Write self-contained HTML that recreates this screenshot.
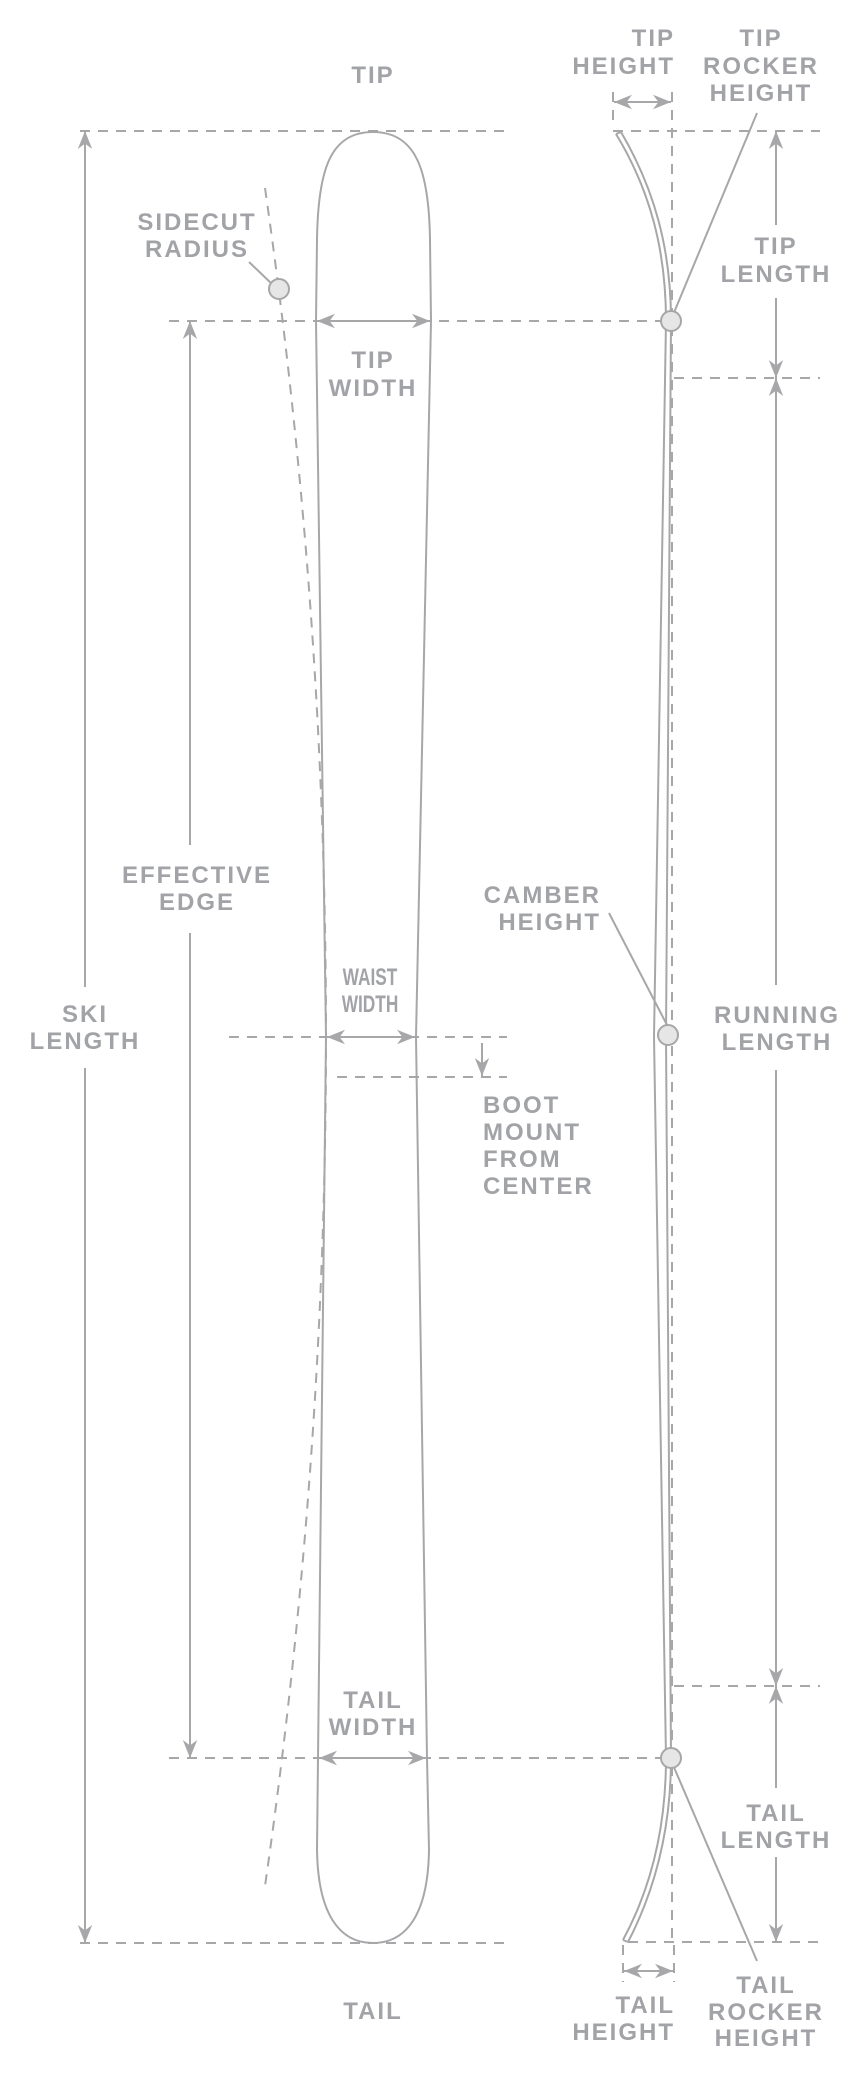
<!DOCTYPE html>
<html><head><meta charset="utf-8"><style>
html,body{margin:0;padding:0;background:#fff}
svg{display:block}
text{font-family:"Liberation Sans",sans-serif;font-weight:bold;fill:#a2a3a7;font-size:24px;letter-spacing:2px}
.c{text-anchor:middle}.r{text-anchor:end}
</style></head><body>
<svg width="864" height="2078" viewBox="0 0 864 2078" xmlns="http://www.w3.org/2000/svg">
<defs>
<marker id="a" viewBox="0 0 10 10" refX="10" refY="5" markerWidth="18" markerHeight="18" markerUnits="userSpaceOnUse" orient="auto-start-reverse"><path d="M0,1 L10,5 L0,9 L3,5z" fill="#a7a7aa"/></marker>
</defs>
<g stroke="#a7a7aa" stroke-width="2" fill="none">
<g stroke-dasharray="10,8">
<line x1="80" y1="131" x2="509" y2="131"/>
<line x1="80" y1="1943" x2="509" y2="1943"/>
<line x1="169" y1="321" x2="660" y2="321"/>
<line x1="169" y1="1758" x2="660" y2="1758"/>
<line x1="613" y1="131" x2="820" y2="131"/>
<line x1="674" y1="378" x2="820" y2="378"/>
<line x1="674" y1="1686" x2="820" y2="1686"/>
<line x1="628" y1="1942" x2="820" y2="1942"/>
<line x1="229" y1="1037" x2="507" y2="1037"/>
<line x1="337" y1="1077" x2="507" y2="1077"/>
<line x1="613" y1="92" x2="613" y2="128"/>
<line x1="672" y1="92" x2="672" y2="1945"/>
<line x1="623" y1="1945" x2="623" y2="1982"/>
<line x1="674" y1="1945" x2="674" y2="1982"/>
<path d="M265,188 Q387,1037 265,1886"/>
</g>
<path d="M373,132 C330,132 318,170 317,240 L316,321 L326,1037 L318,1758 L317,1850 C318,1915 340,1943 373,1943 C406,1943 428,1915 429,1850 L427,1758 L416,1037 L431,321 L430,240 C429,170 416,132 373,132 Z"/>
<path d="M616,134 C650,190 666,250 666,321 L654,1037 L666,1758 C666,1830 650,1890 623,1940"/>
<path d="M621,132 C655,190 671,250 671,321 L666,1037 L671,1758 C671,1830 655,1890 628,1942"/>
<line x1="616" y1="134" x2="621" y2="132"/>
<line x1="623" y1="1940" x2="628" y2="1942"/>
<line x1="757" y1="113" x2="673" y2="315"/>
<line x1="757" y1="1961" x2="673" y2="1765"/>
<line x1="609" y1="913" x2="667" y2="1025"/>
<line x1="249" y1="262" x2="272" y2="284"/>
<line x1="85" y1="131" x2="85" y2="987" marker-start="url(#a)"/>
<line x1="85" y1="1068" x2="85" y2="1943" marker-end="url(#a)"/>
<line x1="190" y1="321" x2="190" y2="845" marker-start="url(#a)"/>
<line x1="190" y1="933" x2="190" y2="1758" marker-end="url(#a)"/>
<line x1="776" y1="131" x2="776" y2="225" marker-start="url(#a)"/>
<line x1="776" y1="298" x2="776" y2="378" marker-end="url(#a)"/>
<line x1="776" y1="378" x2="776" y2="985" marker-start="url(#a)"/>
<line x1="776" y1="1070" x2="776" y2="1686" marker-end="url(#a)"/>
<line x1="776" y1="1686" x2="776" y2="1788" marker-start="url(#a)"/>
<line x1="776" y1="1857" x2="776" y2="1942" marker-end="url(#a)"/>
<line x1="317" y1="321" x2="430" y2="321" marker-start="url(#a)" marker-end="url(#a)"/>
<line x1="319" y1="1758" x2="426" y2="1758" marker-start="url(#a)" marker-end="url(#a)"/>
<line x1="327" y1="1037" x2="415" y2="1037" marker-start="url(#a)" marker-end="url(#a)"/>
<line x1="614" y1="102" x2="671" y2="102" marker-start="url(#a)" marker-end="url(#a)"/>
<line x1="624" y1="1971" x2="673" y2="1971" marker-start="url(#a)" marker-end="url(#a)"/>
<line x1="482" y1="1043" x2="482" y2="1076" marker-end="url(#a)"/>
</g>
<g fill="#e6e6e7" stroke="#a7a7aa" stroke-width="2">
<circle cx="279" cy="289" r="10"/>
<circle cx="671" cy="321" r="10"/>
<circle cx="668" cy="1035" r="10"/>
<circle cx="671" cy="1758" r="10"/>
</g>
<text class="c" x="373" y="83">TIP</text>
<text class="c" x="373" y="2019">TAIL</text>
<text class="c" x="197" y="230">SIDECUT</text><text class="c" x="197" y="257">RADIUS</text>
<text class="c" x="373" y="368">TIP</text><text class="c" x="373" y="396">WIDTH</text>
<text class="c" x="373" y="1708">TAIL</text><text class="c" x="373" y="1735">WIDTH</text>
<text class="c" x="197" y="883">EFFECTIVE</text><text class="c" x="197" y="910">EDGE</text>
<text class="c" x="85" y="1022">SKI</text><text class="c" x="85" y="1049">LENGTH</text>
<g transform="translate(370,0) scale(0.72,1)">
<text class="c" x="0" y="985" style="font-size:24px;letter-spacing:0">WAIST</text>
<text class="c" x="0" y="1012" style="font-size:24px;letter-spacing:0">WIDTH</text>
</g>
<text x="483" y="1113">BOOT</text><text x="483" y="1140">MOUNT</text><text x="483" y="1167">FROM</text><text x="483" y="1194">CENTER</text>
<text class="r" x="601" y="903">CAMBER</text><text class="r" x="601" y="930">HEIGHT</text>
<text class="c" x="777" y="1023">RUNNING</text><text class="c" x="777" y="1050">LENGTH</text>
<text class="r" x="675" y="46">TIP</text><text class="r" x="675" y="74">HEIGHT</text>
<text class="c" x="761" y="46">TIP</text><text class="c" x="761" y="74">ROCKER</text><text class="c" x="761" y="101">HEIGHT</text>
<text class="c" x="776" y="254">TIP</text><text class="c" x="776" y="282">LENGTH</text>
<text class="c" x="776" y="1821">TAIL</text><text class="c" x="776" y="1848">LENGTH</text>
<text class="r" x="675" y="2013">TAIL</text><text class="r" x="675" y="2040">HEIGHT</text>
<text class="c" x="766" y="1993">TAIL</text><text class="c" x="766" y="2020">ROCKER</text><text class="c" x="766" y="2046">HEIGHT</text>
</svg>
</body></html>
